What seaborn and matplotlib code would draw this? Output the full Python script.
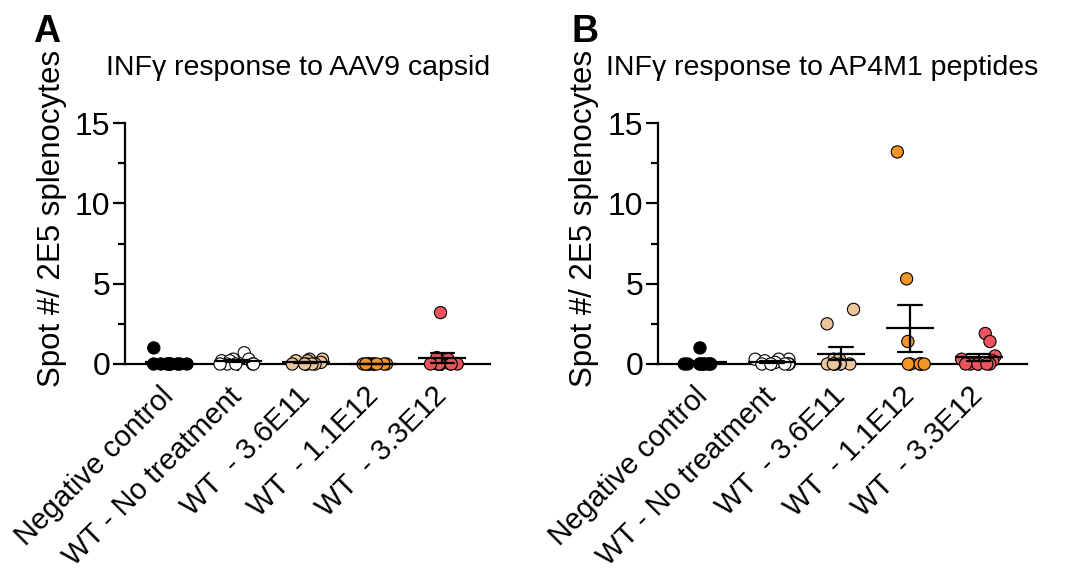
import numpy as np
import pandas as pd
import matplotlib
matplotlib.use("Agg")
import matplotlib.pyplot as plt
import seaborn as sns
from matplotlib.ticker import MultipleLocator

# ---------------- data ----------------
groups = ["Negative control", "WT - No treatment", "WT  - 3.6E11", "WT  - 1.1E12", "WT  - 3.3E12"]
group_colors = ["#000000", "#FFFFFF", "#EBC59C", "#F29524", "#E9545F"]

capsid_neg = [1.0, 0, 0, 0, 0, 0, 0, 0, 0, 0]
capsid_notx = [0.7, 0.3, 0.3, 0.2, 0.2, 0, 0, 0, 0, 0]
capsid_36e11 = [0.3, 0.3, 0.2, 0.2, 0.1, 0, 0, 0, 0, 0]
capsid_11e12 = [0, 0, 0, 0, 0, 0, 0, 0, 0, 0]
capsid_33e12 = [3.2, 0.4, 0.3, 0, 0, 0, 0, 0, 0, 0]

peptide_neg = [1.0, 0, 0, 0, 0, 0, 0, 0, 0, 0]
peptide_notx = [0.3, 0.3, 0.3, 0.2, 0.1, 0, 0, 0, 0, 0]
peptide_36e11 = [3.4, 2.5, 0.3, 0.3, 0, 0, 0, 0, 0, 0]
peptide_11e12 = [13.2, 5.3, 1.4, 0, 0, 0, 0, 0, 0]
peptide_33e12 = [1.9, 1.4, 0.5, 0.3, 0.2, 0, 0, 0, 0, 0]

titles = ["INF\u03b3 response to AAV9 capsid", "INF\u03b3 response to AP4M1 peptides"]
panel_letters = ["A", "B"]
y_label = "Spot #/ 2E5 splenocytes"
y_ticks = [0, 5, 10, 15]

# ---------------- style ----------------
sns.set_style("ticks")
plt.rcParams["font.family"] = ["Liberation Sans", "DejaVu Sans"]
for k in ("text.color", "axes.labelcolor", "xtick.color", "ytick.color", "axes.edgecolor"):
    plt.rcParams[k] = "black"
np.random.seed(7)

fig = plt.figure(figsize=(10.77, 5.75), dpi=100)
axA = fig.add_axes([0.1161, 0.3502, 0.3389, 0.4498])
axB = fig.add_axes([0.6110, 0.3502, 0.3426, 0.4498])

palette = dict(zip(groups, group_colors))


def draw(ax, values, title, title_x):
    df = pd.DataFrame({
        "group": np.repeat(groups, [len(v) for v in values]),
        "spots": np.concatenate([np.asarray(v, float) for v in values]),
    })
    sns.stripplot(data=df, x="group", y="spots", hue="group", order=groups,
                  hue_order=groups, palette=palette, jitter=0.27, size=8.8,
                  linewidth=0.8, edgecolor="black", legend=False, ax=ax,
                  clip_on=False, zorder=3)
    sns.pointplot(data=df, x="group", y="spots", order=groups, errorbar="se",
                  capsize=0.34, color="black", marker="_", markersize=34,
                  markeredgewidth=1.6, linestyle="none",
                  err_kws={"linewidth": 1.6, "zorder": 4}, ax=ax, zorder=5)
    sns.despine(ax=ax)
    ax.set_xlim(-0.65, 4.7)
    ax.set_ylim(-0.6, 15.5)
    ax.spines["left"].set_bounds(0, 15)
    ax.spines["bottom"].set_position(("data", 0))
    for s in ("left", "bottom"):
        ax.spines[s].set_linewidth(1.6)
        ax.spines[s].set_zorder(2)
    ax.set_yticks(y_ticks)
    ax.yaxis.set_minor_locator(MultipleLocator(2.5))
    ax.tick_params(axis="y", which="major", length=8.5, width=1.6, labelsize=23, pad=2)
    ax.tick_params(axis="y", which="minor", length=5, width=1.6)
    ax.tick_params(axis="x", length=5, width=1.6, labelsize=21, pad=15)
    for lbl in ax.get_xticklabels():
        lbl.set_rotation(45)
        lbl.set_ha("right")
        lbl.set_va("center")
        lbl.set_rotation_mode("anchor")
    ax.set_xlabel("")
    ax.set_ylabel(y_label, fontsize=22.5)
    ax.yaxis.set_label_coords(-0.16, 0.6)
    ax.text(title_x, 1.155, title, transform=ax.transAxes, ha="center",
            va="baseline", fontsize=20.5)


draw(axA, [capsid_neg, capsid_notx, capsid_36e11, capsid_11e12, capsid_33e12], titles[0], 0.474)
draw(axB, [peptide_neg, peptide_notx, peptide_36e11, peptide_11e12, peptide_33e12], titles[1], 0.444)

fig.text(0.031, 0.976, panel_letters[0], fontsize=27, fontweight="bold", ha="left", va="top")
fig.text(0.531, 0.976, panel_letters[1], fontsize=27, fontweight="bold", ha="left", va="top")

fig.savefig("out.png", dpi=100)
